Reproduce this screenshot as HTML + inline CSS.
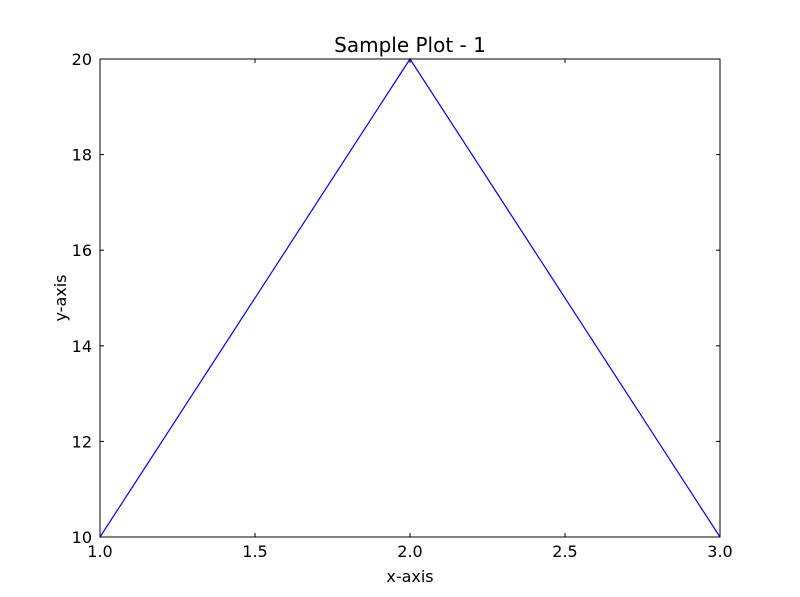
<!DOCTYPE html>
<html><head><meta charset="utf-8"><style>
html,body{margin:0;padding:0;background:#fff;}
svg{display:block;font-family:"DejaVu Sans","Liberation Sans",sans-serif;}
</style></head><body>
<svg id="chart" width="800" height="597" viewBox="0 0 800 597">
<rect x="0" y="0" width="800" height="597" fill="#fff"/>
<g id="plot"></g>
</svg>
<script>
const xValues=[1,2,3];
const yValues=[10,20,10];
const xTicks=[1.0,1.5,2.0,2.5,3.0];
const yTicks=[10,12,14,16,18,20];
const xTickLabels=["1.0","1.5","2.0","2.5","3.0"];
const yTickLabels=["10","12","14","16","18","20"];
const L=100,R=720,T=59,B=537,xmin=1,xmax=3,ymin=10,ymax=20;
const sx=v=>L+(v-xmin)/(xmax-xmin)*(R-L);
const sy=v=>B-(v-ymin)/(ymax-ymin)*(B-T);
const NS="http://www.w3.org/2000/svg";
const g=document.getElementById('plot');
function mk(tag,attrs){const e=document.createElementNS(NS,tag);for(const k in attrs)e.setAttribute(k,attrs[k]);g.appendChild(e);return e;}
const line=mk('polyline',{points:xValues.map((x,i)=>sx(x)+','+sy(yValues[i])).join(' '),fill:'none',stroke:'#0000ff','stroke-width':1.2});


xTicks.forEach((v,i)=>{
  const x=sx(v);
  const t1=mk('line',{x1:x,x2:x,y1:B,y2:B-4,stroke:'#000'});
  
  
  const t2=mk('line',{x1:x,x2:x,y1:T,y2:T+4,stroke:'#000'});
  
  
  const tx=mk('text',{x:x,y:B+20,'text-anchor':'middle','font-size':16});
  tx.textContent=xTickLabels[i];
  
  
});
yTicks.forEach((v,i)=>{
  const y=sy(v);
  const t1=mk('line',{x1:L,x2:L+4,y1:y,y2:y,stroke:'#000'});
  
  
  const t2=mk('line',{x1:R,x2:R-4,y1:y,y2:y,stroke:'#000'});
  
  
  const tx=mk('text',{x:L-8,y:y+6,'text-anchor':'end','font-size':16});
  tx.textContent=yTickLabels[i];
  
  
});
const frame=mk('rect',{x:L,y:T,width:R-L,height:B-T,fill:'none',stroke:'#000','stroke-width':1});


const title=mk('text',{x:(L+R)/2,y:T-7,'text-anchor':'middle','font-size':20});
title.textContent='Sample Plot - 1';


const xl=mk('text',{x:(L+R)/2,y:582,'text-anchor':'middle','font-size':16});
xl.textContent='x-axis';


const yl=mk('text',{x:0,y:0,'text-anchor':'middle','font-size':16,transform:'translate(66,'+((T+B)/2)+') rotate(-90)'});
yl.textContent='y-axis';


</script>
</body></html>
